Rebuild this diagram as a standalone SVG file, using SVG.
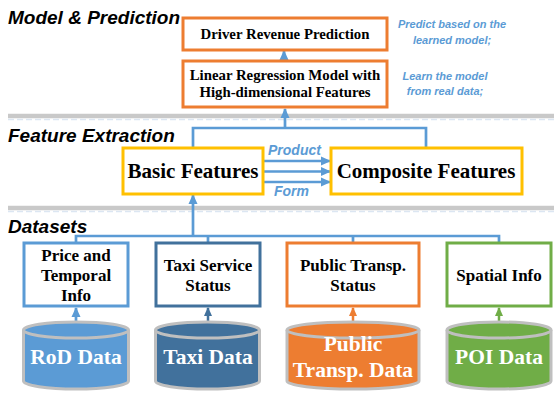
<svg xmlns="http://www.w3.org/2000/svg" width="554" height="393" viewBox="0 0 554 393">
<defs>
<marker id="ah" markerUnits="userSpaceOnUse" markerWidth="10" markerHeight="10" viewBox="0 0 10 10" refX="9" refY="5" orient="auto">
<path d="M0,0.5 L10,5 L0,9.5 Z" fill="#5B9BD5"/>
</marker>
<marker id="ahO" markerUnits="userSpaceOnUse" markerWidth="9" markerHeight="9" viewBox="0 0 10 10" refX="9" refY="5" orient="auto">
<path d="M0,0.5 L10,5 L0,9.5 Z" fill="#ED7D31"/>
</marker>
<marker id="ahG" markerUnits="userSpaceOnUse" markerWidth="9" markerHeight="9" viewBox="0 0 10 10" refX="9" refY="5" orient="auto">
<path d="M0,0.5 L10,5 L0,9.5 Z" fill="#70AD47"/>
</marker>
<marker id="ahD" markerUnits="userSpaceOnUse" markerWidth="9" markerHeight="9" viewBox="0 0 10 10" refX="9" refY="5" orient="auto">
<path d="M0,0.5 L10,5 L0,9.5 Z" fill="#41719C"/>
</marker>
</defs>
<style>
.sec{font-family:"Liberation Sans",Arial,sans-serif;font-weight:bold;font-style:italic;font-size:19px;fill:#000}
.note{font-family:"Liberation Sans",Arial,sans-serif;font-weight:bold;font-style:italic;font-size:11px;fill:#5B9BD5;text-anchor:middle}
.lbl{font-family:"Liberation Sans",Arial,sans-serif;font-weight:bold;font-style:italic;font-size:14px;fill:#5B9BD5}
.bt{font-family:"Liberation Serif","Times New Roman",serif;font-weight:bold;font-size:14.8px;fill:#000;text-anchor:middle}
.st{font-family:"Liberation Serif","Times New Roman",serif;font-weight:bold;font-size:17px;fill:#000;text-anchor:middle}
.big{font-family:"Liberation Serif","Times New Roman",serif;font-weight:bold;font-size:21px;fill:#000;text-anchor:middle}
.cyl{font-family:"Liberation Serif","Times New Roman",serif;font-weight:bold;font-size:21.5px;fill:#fff;text-anchor:middle}
.box{fill:#fff;stroke-width:3}
.conn{fill:none;stroke:#5B9BD5;stroke-width:2.7}
.sepA{stroke:#C9C9C9;stroke-width:4.5}
.sepB{stroke:#DCE6F2;stroke-width:1.5;stroke-dasharray:6 3}
.cylb{stroke:#BFBFBF;stroke-width:3}
</style>

<g id="separators">
<line class="sepA" x1="8" y1="116" x2="554" y2="116"/>
<line class="sepB" x1="8" y1="119.5" x2="554" y2="119.5"/>
<line class="sepA" x1="8" y1="208" x2="554" y2="208"/>
<line class="sepB" x1="8" y1="211.5" x2="554" y2="211.5"/>
</g>

<g id="section-titles">
<text class="sec" x="8" y="24">Model &amp; Prediction</text>
<text class="sec" x="8" y="142">Feature Extraction</text>
<text class="sec" x="8" y="233">Datasets</text>
</g>

<g id="notes">
<text class="note" x="452" y="28">Predict based on the</text>
<text class="note" x="452" y="44">learned model;</text>
<text class="note" x="445" y="80">Learn the model</text>
<text class="note" x="445" y="95">from real data;</text>
</g>

<g id="connectors">
<line class="conn" x1="284" y1="61" x2="284" y2="51" marker-end="url(#ah)"/>
<polyline class="conn" points="193,148 193,128 426,128 426,148"/>
<line class="conn" x1="285" y1="128" x2="285" y2="109" marker-end="url(#ah)"/>
<line class="conn" x1="263" y1="161" x2="330" y2="161" marker-end="url(#ah)"/>
<line class="conn" x1="263" y1="171.5" x2="330" y2="171.5" marker-end="url(#ah)"/>
<line class="conn" x1="263" y1="182" x2="330" y2="182" marker-end="url(#ah)"/>
<polyline class="conn" points="76,243 76,236 499,236 499,243"/>
<line class="conn" x1="208" y1="236" x2="208" y2="243"/>
<line class="conn" x1="353" y1="236" x2="353" y2="243"/>
<line class="conn" x1="193" y1="236" x2="193" y2="195" marker-end="url(#ah)"/>
<line class="conn" x1="76" y1="322" x2="76" y2="308" marker-end="url(#ah)"/>
<line stroke="#41719C" stroke-width="2.5" x1="208" y1="322" x2="208" y2="308" marker-end="url(#ahD)"/>
<line stroke="#ED7D31" stroke-width="2.5" x1="353" y1="322" x2="353" y2="308" marker-end="url(#ahO)"/>
<line stroke="#70AD47" stroke-width="2.5" x1="499" y1="322" x2="499" y2="308" marker-end="url(#ahG)"/>
<text class="lbl" x="268" y="155">Product</text>
<text class="lbl" x="274" y="196">Form</text>
</g>

<g id="driver-revenue">
<rect class="box" x="183" y="18" width="204" height="32" stroke="#ED7D31"/>
<text class="bt" x="285" y="39">Driver Revenue Prediction</text>
</g>

<g id="linear-regression">
<rect class="box" x="183" y="61" width="204" height="46" stroke="#ED7D31"/>
<text class="bt" x="285" y="80">Linear Regression Model with</text>
<text class="bt" x="285" y="97">High-dimensional Features</text>
</g>

<g id="basic-features">
<rect class="box" x="123" y="148" width="140" height="46" stroke="#FFC000"/>
<text class="big" x="193" y="178">Basic Features</text>
</g>

<g id="composite-features">
<rect class="box" x="331" y="148" width="191" height="46" stroke="#FFC000"/>
<text class="big" x="426" y="178">Composite Features</text>
</g>

<g id="price-temporal">
<rect class="box" x="24" y="243" width="104" height="63" stroke="#5B9BD5"/>
<text class="st" x="76" y="261">Price and</text>
<text class="st" x="76" y="281">Temporal</text>
<text class="st" x="76" y="301">Info</text>
</g>

<g id="taxi-service">
<rect class="box" x="156" y="243" width="104" height="63" stroke="#41719C"/>
<text class="st" x="208" y="271">Taxi Service</text>
<text class="st" x="208" y="291">Status</text>
</g>

<g id="public-transp-status">
<rect class="box" x="287" y="243" width="132" height="63" stroke="#ED7D31"/>
<text class="st" x="353" y="271">Public Transp.</text>
<text class="st" x="353" y="291">Status</text>
</g>

<g id="spatial-info">
<rect class="box" x="447" y="243" width="104" height="63" stroke="#70AD47"/>
<text class="st" x="499" y="281">Spatial Info</text>
</g>

<g id="rod-data">
<path class="cylb" fill="#5B9BD5" d="M23.5,330 L23.5,381 A52.5,8 0 0 0 128.5,381 L128.5,330"/>
<ellipse class="cylb" fill="#5B9BD5" cx="76" cy="330" rx="52.5" ry="8"/>
<text class="cyl" x="76" y="364">RoD Data</text>
</g>

<g id="taxi-data">
<path class="cylb" fill="#41719C" d="M155.5,330 L155.5,381 A52,8 0 0 0 259.5,381 L259.5,330"/>
<ellipse class="cylb" fill="#41719C" cx="207.5" cy="330" rx="52" ry="8"/>
<text class="cyl" x="208" y="364">Taxi Data</text>
</g>

<g id="public-transp-data">
<path class="cylb" fill="#ED7D31" d="M287,330 L287,381 A66,8 0 0 0 419,381 L419,330"/>
<ellipse class="cylb" fill="#ED7D31" cx="353" cy="330" rx="66" ry="8"/>
<text class="cyl" x="353" y="351">Public</text>
<text class="cyl" x="353" y="377">Transp. Data</text>
</g>

<g id="poi-data">
<path class="cylb" fill="#70AD47" d="M447,330 L447,381 A52,8 0 0 0 551,381 L551,330"/>
<ellipse class="cylb" fill="#70AD47" cx="499" cy="330" rx="52" ry="8"/>
<text class="cyl" x="499" y="364">POI Data</text>
</g>
</svg>
